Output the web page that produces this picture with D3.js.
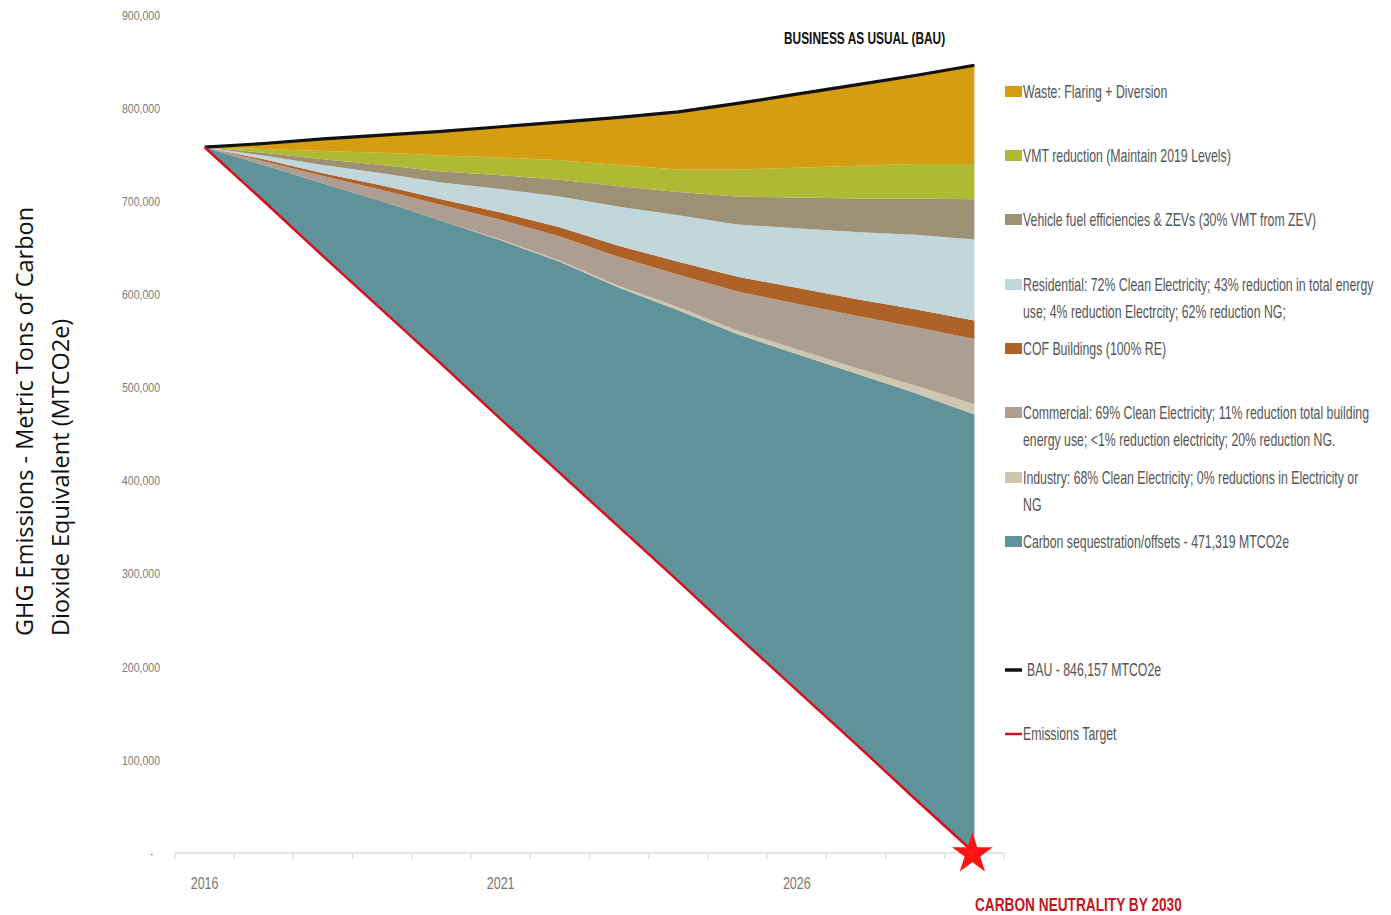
<!DOCTYPE html>
<html>
<head>
<meta charset="utf-8">
<script src="https://cdn.jsdelivr.net/npm/d3@7"></script>
<style>
    body { margin: 0; background: #fff; }
    .cond { font-family: "Liberation Sans", Arial, sans-serif; }
</style>
</head>
<body>
<svg id="chart" width="1391" height="915"></svg>
<script>
const years = [2016, 2017, 2018, 2019, 2020, 2021, 2022, 2023, 2024, 2025, 2026, 2027, 2028, 2029];
const yearLabels = [2016, 2021, 2026];
const yTicks = [0, 100000, 200000, 300000, 400000, 500000, 600000, 700000, 800000, 900000];

// emissions target line (the stack sits on top of it)
const target = [758000, 700000, 641000, 583000, 525000, 466000, 408000, 350000, 292000, 233000, 175000, 117000, 58000, 0];

// layer thickness per year, bottom to top
const carbon = [0, 39000, 78000, 117000, 154000, 192000, 227000, 257000, 291000, 324000, 361000, 398000, 436000, 471000];
const industry = [0, 0, 0, 0, 0, 1000, 1000, 2000, 3000, 4000, 5000, 6000, 8000, 11000];
const commercial = [0, 4000, 8000, 12000, 17000, 21000, 26000, 31000, 35000, 42000, 49000, 56000, 63000, 70000];
const cof = [0, 2000, 3000, 5000, 6000, 8000, 10000, 12000, 14000, 16000, 17000, 18000, 19000, 20000];
const residential = [0, 4000, 9000, 13000, 18000, 25000, 33000, 42000, 50000, 56000, 64000, 72000, 80000, 87000];
const vehicle = [0, 3000, 6000, 9000, 12000, 15000, 18000, 22000, 25000, 30000, 33000, 36000, 39000, 43000];
const vmt = [0, 4000, 9000, 13000, 17000, 19000, 21000, 23000, 24000, 29000, 32000, 35000, 37000, 38000];
const waste = [0, 6000, 13000, 19000, 26000, 33000, 41000, 51000, 62000, 71000, 79000, 87000, 95000, 106000];

const keys = ["carbon", "industry", "commercial", "cof", "residential", "vehicle", "vmt", "waste"];
const series = { carbon, industry, commercial, cof, residential, vehicle, vmt, waste };
const colors = d3.scaleOrdinal(keys, ["#5f9399", "#cfc6b1", "#ad9e91", "#ae6228", "#c1d7dc", "#9c9175", "#b0b934", "#d59d10"]);

const legendItems = [
    { key: "waste", lines: ["Waste: Flaring + Diversion"] },
    { key: "vmt", lines: ["VMT reduction (Maintain 2019 Levels)"] },
    { key: "vehicle", lines: ["Vehicle fuel efficiencies & ZEVs (30% VMT from ZEV)"] },
    { key: "residential", lines: ["Residential: 72% Clean Electricity; 43% reduction in total energy", "use; 4% reduction Electrcity; 62% reduction NG;"] },
    { key: "cof", lines: ["COF Buildings (100% RE)"] },
    { key: "commercial", lines: ["Commercial: 69% Clean Electricity; 11% reduction total building", "energy use; <1% reduction electricity; 20% reduction NG."] },
    { key: "industry", lines: ["Industry: 68% Clean Electricity; 0% reductions in Electricity or", "NG"] },
    { key: "carbon", lines: ["Carbon sequestration/offsets - 471,319 MTCO2e"] },
    { key: "bau", lines: ["BAU - 846,157 MTCO2e"] },
    { key: "target", lines: ["Emissions Target"] }
];

const svg = d3.select("#chart");

const x = d3.scaleBand(years, [175, 1004]);
const cx = d => x(d) + x.bandwidth() / 2;
const y = d3.scaleLinear([0, 900000], [853, 15]);

// no condensed face installed, so narrow the text by hand
const squeeze = (sel, px, py, sx) => sel.attr("transform", `translate(${px}, ${py}) scale(${sx}, 1)`);

// stack layers and lift them onto the target line
const rows = years.map((yr, i) => {
    let row = { year: yr };
    keys.forEach(k => row[k] = series[k][i]);
    return row;
});
const stacked = d3.stack().keys(keys)(rows);
stacked.forEach(layer => layer.forEach((p, i) => { p[0] += target[i]; p[1] += target[i]; }));

const area = d3.area()
    .x(d => cx(d.data.year))
    .y0(d => y(d[0]))
    .y1(d => y(d[1]));

svg.append("g").selectAll("path")
    .data(stacked)
    .enter()
    .append("path")
    .attr("d", area)
    .attr("fill", d => colors(d.key));

// x axis: light rule with ticks on band edges
const xAxis = svg.append("g").attr("transform", `translate(0, ${y(0)})`);
xAxis.append("line")
    .attr("x1", 175).attr("x2", 1004)
    .attr("stroke", "#dcdcdc").attr("stroke-width", 1.5);
xAxis.selectAll(".edge")
    .data([...years.map(d => x(d)), 1004])
    .enter()
    .append("line")
    .attr("x1", d => d).attr("x2", d => d)
    .attr("y1", 0).attr("y2", 6)
    .attr("stroke", "#dcdcdc").attr("stroke-width", 1.2);
xAxis.selectAll(".lbl")
    .data(yearLabels)
    .enter()
    .append("text")
    .attr("class", "cond")
    .attr("text-anchor", "middle")
    .attr("fill", "#777")
    .style("font-size", "16px")
    .each(function (d) { squeeze(d3.select(this), cx(d), 36, 0.78); })
    .text(d => d);

// y axis labels only
const yAxis = d3.axisLeft(y).tickValues(yTicks).tickSize(0).tickPadding(0)
    .tickFormat(d => d === 0 ? "·" : d3.format(",")(d));
svg.append("g")
    .attr("transform", "translate(160, 0)")
    .call(yAxis)
    .call(g => g.select(".domain").remove())
    .call(g => g.selectAll("text")
        .attr("class", "cond")
        .attr("fill", "#7a7a7a")
        .attr("transform", d => d === 0 ? "translate(-6, 0)" : "scale(0.78, 1)")
        .style("font-size", "13.5px"));

// BAU line on top of the stack
const topLayer = stacked[stacked.length - 1];
svg.append("path")
    .attr("d", d3.line().x(d => cx(d.data.year)).y(d => y(d[1]))(topLayer))
    .attr("fill", "none")
    .attr("stroke", "#111")
    .attr("stroke-width", 3.2);

// target line
svg.append("path")
    .attr("d", d3.line().x((d, i) => cx(years[i])).y(d => y(d))(target))
    .attr("fill", "none")
    .attr("stroke", "#d3101c")
    .attr("stroke-width", 2.5);

svg.append("path")
    .attr("d", d3.symbol(d3.symbolStar, 520)())
    .attr("transform", `translate(${cx(years[years.length - 1]) - 2}, ${y(target[target.length - 1]) + 1})`)
    .attr("fill", "#ff1414");

svg.append("text")
    .attr("class", "cond")
    .attr("fill", "#c4161c")
    .style("font-size", "18px").style("font-weight", "bold")
    .call(squeeze, 975, 911, 0.76)
    .text("CARBON NEUTRALITY BY 2030");

svg.append("text")
    .attr("class", "cond")
    .attr("fill", "#111")
    .style("font-size", "17px").style("font-weight", "bold")
    .call(squeeze, 784, 44, 0.7)
    .text("BUSINESS AS USUAL (BAU)");

// y axis title
const yTitle = svg.append("text")
    .attr("transform", "translate(0, 636) rotate(-90)")
    .attr("fill", "#111")
    .style("font-family", "'Open Sans', sans-serif")
    .style("font-size", "23.5px");
yTitle.append("tspan").attr("x", 0).attr("y", 33).text("GHG Emissions - Metric Tons of Carbon");
yTitle.append("tspan").attr("x", 0).attr("y", 69).text("Dioxide Equivalent (MTCO2e)");

// legend
const legendY = [92, 156, 220, 285, 349, 413, 478, 542, 670, 734];
const lg = svg.append("g").selectAll("g")
    .data(legendItems)
    .enter()
    .append("g")
    .attr("transform", (d, i) => `translate(1005, ${legendY[i]})`);

lg.filter(d => series[d.key])
    .append("rect")
    .attr("x", 0).attr("y", -6)
    .attr("width", 17).attr("height", 11)
    .attr("fill", d => colors(d.key));

lg.filter(d => !series[d.key])
    .append("line")
    .attr("x1", 0).attr("x2", 17)
    .attr("stroke", d => d.key === "bau" ? "#111" : "#d3101c")
    .attr("stroke-width", d => d.key === "bau" ? 3.5 : 2.5);

lg.append("text")
    .attr("class", "cond")
    .attr("fill", "#555")
    .style("font-size", "18px")
    .each(function (d) { squeeze(d3.select(this), d.key === "bau" ? 22 : 18, 0, 0.685); })
    .selectAll("tspan")
    .data(d => d.lines.map((t, j) => ({ t, j })))
    .enter()
    .append("tspan")
    .attr("x", 0)
    .attr("y", d => 6 + d.j * 27)
    .text(d => d.t);
</script>
</body>
</html>
